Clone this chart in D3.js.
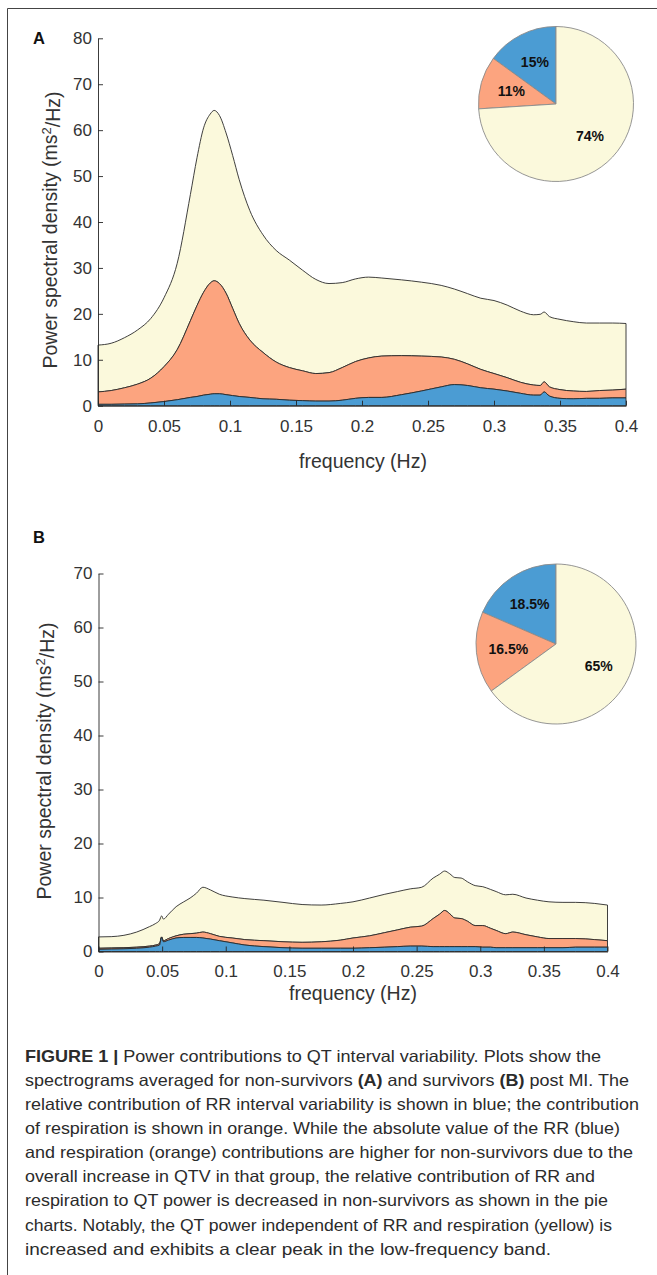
<!DOCTYPE html>
<html>
<head>
<meta charset="utf-8">
<script src="https://cdn.jsdelivr.net/npm/d3@7"></script>
<style>
  body { margin: 0; background: #fff; }
  svg { display: block; }
</style>
</head>
<body>
<div id="figure"></div>
<script>
/** Panel A (non-survivors): frequency grid and the three stacked contributions */
const freqA = [0, 0.01, 0.02, 0.03, 0.04, 0.05, 0.06, 0.07, 0.075, 0.08, 0.085, 0.088, 0.092, 0.097, 0.102, 0.107, 0.115, 0.125, 0.135, 0.145, 0.155, 0.165, 0.175, 0.185, 0.195, 0.205, 0.215, 0.23, 0.245, 0.26, 0.27, 0.28, 0.29, 0.3, 0.31, 0.32, 0.33, 0.335, 0.338, 0.342, 0.35, 0.36, 0.37, 0.38, 0.39, 0.4];
const rrA = [0.3, 0.3, 0.35, 0.4, 0.6, 0.9, 1.3, 1.8, 2.0, 2.3, 2.5, 2.6, 2.6, 2.4, 2.2, 2.0, 1.8, 1.5, 1.4, 1.2, 1.1, 1.0, 1.0, 1.2, 1.6, 1.8, 1.8, 2.4, 3.2, 4.1, 4.6, 4.4, 3.9, 3.6, 3.2, 2.7, 2.3, 2.3, 3.0, 2.1, 1.6, 1.5, 1.6, 1.6, 1.7, 1.7];
const respA = [2.7, 3.0, 3.55, 4.3, 5.4, 7.6, 10.9, 16.7, 19.8, 22.4, 24.2, 24.6, 24.0, 22.1, 19.0, 15.9, 12.5, 10.1, 8.1, 7.1, 6.5, 6.0, 6.2, 7.1, 8.0, 8.6, 9.0, 8.5, 7.6, 6.5, 5.5, 4.7, 4.0, 3.4, 2.9, 2.4, 2.2, 2.1, 2.2, 2.0, 1.9, 1.7, 1.5, 1.7, 1.7, 1.9];
const indepA = [10.2, 10.3, 10.9, 11.8, 13.0, 15.0, 18.8, 27.5, 32.2, 35.8, 36.8, 37.1, 36.6, 34.9, 33.3, 31.3, 28.2, 25.6, 24.3, 23.4, 21.9, 20.5, 19.4, 18.5, 18.0, 17.6, 17.0, 16.5, 16.1, 15.6, 15.3, 15.3, 15.5, 15.9, 15.8, 15.5, 15.3, 15.5, 15.2, 15.3, 15.3, 15.1, 14.9, 14.7, 14.6, 14.3];

/** Panel B (survivors) */
const freqB = [0, 0.01, 0.02, 0.03, 0.04, 0.045, 0.048, 0.0496, 0.051, 0.055, 0.061, 0.067, 0.072, 0.077, 0.082, 0.088, 0.095, 0.105, 0.115, 0.13, 0.145, 0.16, 0.175, 0.19, 0.2, 0.213, 0.225, 0.235, 0.245, 0.254, 0.263, 0.268, 0.272, 0.276, 0.28, 0.285, 0.29, 0.296, 0.302, 0.308, 0.3125, 0.32, 0.3256, 0.336, 0.345, 0.354, 0.365, 0.375, 0.39, 0.4];
const rrB = [0.4, 0.45, 0.5, 0.6, 0.8, 1.0, 1.2, 2.6, 1.8, 2.1, 2.5, 2.6, 2.6, 2.6, 2.5, 2.3, 2.0, 1.6, 1.2, 0.9, 0.7, 0.6, 0.6, 0.6, 0.6, 0.7, 0.8, 0.9, 1.0, 1.0, 0.9, 0.9, 0.9, 0.9, 0.9, 0.9, 0.9, 0.9, 0.8, 0.8, 0.7, 0.7, 0.7, 0.7, 0.7, 0.7, 0.7, 0.8, 0.8, 0.8];
const respB = [0.2, 0.2, 0.2, 0.2, 0.2, 0.2, 0.3, 0.1, 0.2, 0.3, 0.4, 0.6, 0.7, 0.8, 1.1, 1.0, 0.8, 0.9, 1.0, 1.1, 1.1, 1.1, 1.2, 1.5, 1.9, 2.2, 2.7, 3.1, 3.5, 3.7, 5.2, 6.0, 6.7, 6.1, 5.3, 5.2, 4.7, 3.9, 4.0, 3.5, 3.2, 2.6, 2.9, 2.4, 2.0, 1.7, 1.7, 1.6, 1.4, 1.2];
const indepB = [2.1, 2.1, 2.3, 2.8, 3.6, 4.0, 4.3, 3.9, 4.0, 4.5, 5.4, 6.0, 6.6, 7.4, 8.3, 8.1, 7.8, 7.6, 7.6, 7.5, 7.3, 7.0, 6.8, 6.8, 6.7, 7.0, 7.1, 7.1, 7.1, 7.2, 7.5, 7.4, 7.3, 7.4, 7.5, 7.5, 7.3, 7.4, 7.2, 7.2, 7.2, 7.2, 7.0, 6.8, 6.8, 6.8, 6.7, 6.7, 6.7, 6.6];

/** Pie shares (RR, respiration, independent) */
const pieA = [15, 11, 74];
const pieB = [18.5, 16.5, 65];
const pieLabelsA = ["15%", "11%", "74%"];
const pieLabelsB = ["18.5%", "16.5%", "65%"];

/** Ticks */
const xTicks = [0, 0.05, 0.1, 0.15, 0.2, 0.25, 0.3, 0.35, 0.4];
const xTickLabels = ["0", "0.05", "0.1", "0.15", "0.2", "0.25", "0.3", "0.35", "0.4"];
const yTicksA = [0, 10, 20, 30, 40, 50, 60, 70, 80];
const yTicksB = [0, 10, 20, 30, 40, 50, 60, 70];

/** Caption lines: [text, bold] */
const captionLines = [
  [["FIGURE 1 | ", true], ["Power contributions to QT interval variability. Plots show the", false]],
  [["spectrograms averaged for non-survivors ", false], ["(A)", true], [" and survivors ", false], ["(B)", true], [" post MI. The", false]],
  [["relative contribution of RR interval variability is shown in blue; the contribution", false]],
  [["of respiration is shown in orange. While the absolute value of the RR (blue)", false]],
  [["and respiration (orange) contributions are higher for non-survivors due to the", false]],
  [["overall increase in QTV in that group, the relative contribution of RR and", false]],
  [["respiration to QT power is decreased in non-survivors as shown in the pie", false]],
  [["charts. Notably, the QT power independent of RR and respiration (yellow) is", false]],
  [["increased and exhibits a clear peak in the low-frequency band.", false]],
];
const captionWidths = [576, 604, 614, 595, 608, 570, 583, 587, 526];

const colors = ["#4b9cd3", "#fca47f", "#fbf9dc"];
const keys = ["rr", "resp", "indep"];
const font = "'Liberation Sans', Arial, Helvetica, sans-serif";
const textColor = "#333";

const W = 657;
const H = 1275;

const svg = d3
  .select("#figure")
  .append("svg")
  .attr("width", W)
  .attr("height", H)
  .style("font-family", font);

// frame: top and left rules only
svg.append("line").attr("x1", 7.5).attr("x2", W).attr("y1", 8.5).attr("y2", 8.5)
  .attr("stroke", "#444").attr("stroke-width", 1);
svg.append("line").attr("x1", 7.5).attr("x2", 7.5).attr("y1", 8.5).attr("y2", H)
  .attr("stroke", "#444").attr("stroke-width", 1);

const drawPanel = (cfg) => {
  const { freq, rr, resp, indep, xRange, yRange, yMax, yTicks } = cfg;
  const g = svg.append("g");

  const x = d3.scaleLinear().domain([0, 0.4]).range(xRange);
  const y = d3.scaleLinear().domain([0, yMax]).range(yRange);

  const rows = freq.map((f, i) => ({ f, rr: rr[i], resp: resp[i], indep: indep[i] }));
  const series = d3.stack().keys(keys)(rows);

  const area = d3
    .area()
    .x((d) => x(d.data.f))
    .y0((d) => y(d[0]))
    .y1((d) => y(d[1]))
    .curve(d3.curveMonotoneX);

  // draw from top layer down so each edge sits on top of the layer above
  g.selectAll("path.layer")
    .data(series.slice().reverse())
    .enter()
    .append("path")
    .attr("class", "layer")
    .attr("d", area)
    .attr("fill", (d) => colors[d.index])
    .attr("stroke", "#2a2a2a")
    .attr("stroke-width", 0.9)
    .attr("stroke-linejoin", "round");

  const xAxis = d3
    .axisBottom(x)
    .tickValues(xTicks)
    .tickFormat((d, i) => xTickLabels[i])
    .tickSizeInner(-5)
    .tickSizeOuter(0)
    .tickPadding(cfg.xPad);

  const yAxis = d3
    .axisLeft(y)
    .tickValues(yTicks)
    .tickFormat(d3.format("d"))
    .tickSizeInner(-5)
    .tickSizeOuter(0)
    .tickPadding(6);

  const gx = g.append("g").attr("transform", `translate(0,${yRange[0]})`).call(xAxis);
  const gy = g.append("g").attr("transform", `translate(${xRange[0]},0)`).call(yAxis);

  [gx, gy].forEach((a) => {
    a.selectAll("path, line").attr("stroke", "#262626").attr("stroke-width", 0.9);
    a.selectAll("text")
      .attr("fill", textColor)
      .style("font-size", "17px")
      .style("font-family", font);
  });

  // axis titles
  g.append("text")
    .attr("x", cfg.xTitle[0])
    .attr("y", cfg.xTitle[1])
    .attr("text-anchor", "middle")
    .attr("fill", textColor)
    .style("font-size", "19.5px")
    .text("frequency (Hz)");

  const yt = g
    .append("text")
    .attr("transform", `translate(${cfg.yTitle[0]},${cfg.yTitle[1]}) rotate(-90)`)
    .attr("text-anchor", "middle")
    .attr("fill", textColor)
    .style("font-size", "19.5px");
  yt.append("tspan").text("Power spectral density (ms");
  yt.append("tspan").attr("dy", "-0.45em").style("font-size", "13px").text("2");
  yt.append("tspan").attr("dy", "0.45em").text("/Hz)");

  // panel letter
  g.append("text")
    .attr("x", cfg.letterPos[0])
    .attr("y", cfg.letterPos[1])
    .attr("fill", "#111")
    .style("font-size", "16.5px")
    .style("font-weight", "bold")
    .text(cfg.letter);

  /** Pie inset, counter-clockwise from 12 o'clock like MATLAB */
  const pie = d3.pie().sort(null).startAngle(0).endAngle(-2 * Math.PI);
  const arcs = pie(cfg.pie);
  const r = cfg.pieR;
  const arc = d3.arc().innerRadius(0).outerRadius(r);
  const labelArc = d3.arc().innerRadius(r * 0.6).outerRadius(r * 0.6);

  const gp = g.append("g").attr("transform", `translate(${cfg.pieC[0]},${cfg.pieC[1]})`);
  gp.selectAll("path")
    .data(arcs)
    .enter()
    .append("path")
    .attr("d", arc)
    .attr("fill", (d, i) => colors[i])
    .attr("stroke", "#8a8a8a")
    .attr("stroke-width", 0.9);

  gp.selectAll("text")
    .data(arcs)
    .enter()
    .append("text")
    .attr("transform", (d) => `translate(${labelArc.centroid(d)})`)
    .attr("text-anchor", "middle")
    .attr("dy", "0.35em")
    .attr("fill", "#111")
    .style("font-size", "14px")
    .style("font-weight", "bold")
    .text((d, i) => cfg.pieLabels[i]);
};

drawPanel({
  freq: freqA, rr: rrA, resp: respA, indep: indepA,
  xRange: [98, 626], yRange: [405.7, 38.3], yMax: 80, yTicks: yTicksA,
  xPad: 14, xTitle: [363, 468], yTitle: [57, 230],
  letter: "A", letterPos: [33, 43.5],
  pie: pieA, pieLabels: pieLabelsA, pieC: [556, 104], pieR: 77.5,
});

drawPanel({
  freq: freqB, rr: rrB, resp: respB, indep: indepB,
  xRange: [98.5, 607.5], yRange: [951.5, 573.5], yMax: 70, yTicks: yTicksB,
  xPad: 13, xTitle: [353, 1000], yTitle: [51, 761],
  letter: "B", letterPos: [33, 542.5],
  pie: pieB, pieLabels: pieLabelsB, pieC: [556, 644], pieR: 80,
});

/** Caption */
const cap = svg.append("g").attr("fill", "#2b2b2b").style("font-size", "16.5px");
captionLines.forEach((line, i) => {
  const t = cap
    .append("text")
    .attr("x", 25)
    .attr("y", 1061.5 + i * 24.15)
    .attr("textLength", captionWidths[i])
    .attr("lengthAdjust", "spacingAndGlyphs");
  line.forEach(([s, bold]) => {
    t.append("tspan").style("font-weight", bold ? "bold" : "normal").text(s);
  });
});
</script>
</body>
</html>
